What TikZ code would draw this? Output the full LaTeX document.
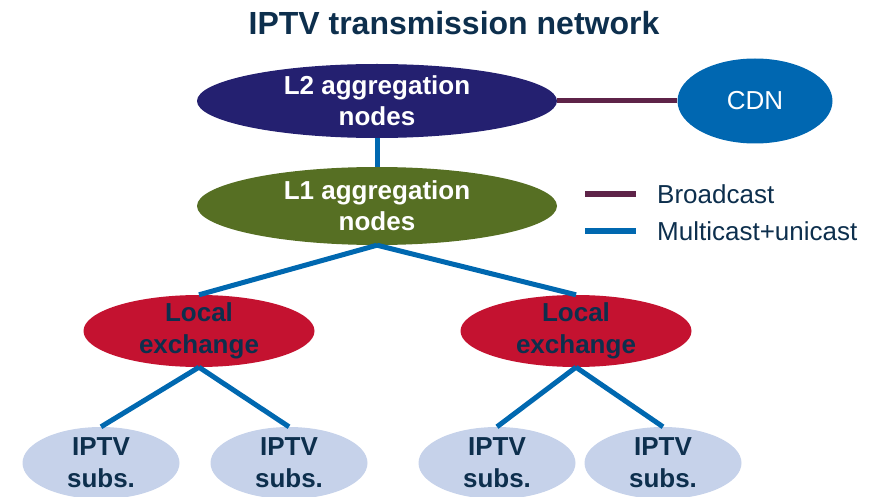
\documentclass[tikz,border=0pt]{standalone}
\usepackage{fontspec}
\setmainfont{Liberation Sans}
\usetikzlibrary{shapes.geometric, positioning}
\definecolor{aggtwo}{RGB}{36,32,112}
\definecolor{aggone}{RGB}{86,111,35}
\definecolor{exred}{RGB}{196,18,48}
\definecolor{subblue}{RGB}{198,210,234}
\definecolor{cdnblue}{RGB}{0,103,177}
\definecolor{linkblue}{RGB}{0,104,176}
\definecolor{linkplum}{RGB}{94,35,72}
\definecolor{inknavy}{RGB}{13,47,77}
\tikzset{
  agg/.style={
    ellipse, inner xsep=0pt, inner ysep=-12pt,
    minimum width=360pt, align=center, text=white,
    font=\fontsize{26}{31}\selectfont\bfseries,
    execute at begin node={\rule{0pt}{23pt}},
  },
  aggtop/.style={agg, fill=aggtwo, minimum height=74pt},
  aggmid/.style={agg, fill=aggone, minimum height=78pt},
  lexnode/.style={
    ellipse, fill=exred, inner xsep=0pt, inner ysep=-12pt,
    minimum width=231pt, minimum height=72pt,
    align=center, text=inknavy,
    font=\fontsize{26}{32}\selectfont\bfseries,
    execute at begin node={\rule{0pt}{24pt}},
  },
  subnode/.style={
    ellipse, fill=subblue, inner xsep=0pt, inner ysep=-12pt,
    minimum width=157pt, minimum height=72pt,
    align=center, text=inknavy,
    font=\fontsize{26}{32}\selectfont\bfseries,
    execute at begin node={\rule{0pt}{23pt}},
  },
  cdnnode/.style={
    ellipse, fill=cdnblue, inner sep=0pt,
    minimum width=155pt, minimum height=85pt,
    text=white, font=\fontsize{26}{31}\selectfont,
  },
  bcast/.style={line width=5pt, draw=linkplum},
  mcast/.style={line width=5pt, draw=linkblue},
  legline/.style={line width=6pt},
  legtext/.style={
    anchor=west, inner sep=0pt, text=inknavy,
    font=\fontsize{26}{31}\selectfont,
  },
  ttl/.style={
    anchor=base, inner sep=0pt, text=inknavy,
    font=\fontsize{32}{38}\selectfont\bfseries,
  }
}

\begin{document}
\begin{tikzpicture}[x=1pt, y=-1pt]

  \clip (0,0) rectangle (876,497);
  \useasboundingbox (0,0) rectangle (876,497);

  \node[ttl]     (title) at (454,35)  {IPTV transmission network};

  \node[aggtop]  (l2)    at (377,101) {L2 aggregation\\nodes};
  \node[cdnnode] (cdn)   at (755,101) {CDN};
  \node[aggmid]  (l1)    at (377,206) {L1 aggregation\\nodes};

  \node[lexnode] (lexa)  at (199,331) {Local\\exchange};
  \node[lexnode] (lexb)  at (576,331) {Local\\exchange};

  \node[subnode] (suba)  at (101,463) {IPTV\\subs.};
  \node[subnode] (subb)  at (289,463) {IPTV\\subs.};
  \node[subnode] (subc)  at (497,463) {IPTV\\subs.};
  \node[subnode] (subd)  at (663,463) {IPTV\\subs.};

  \draw[bcast] (l2) -- (cdn);
  \draw[mcast] (l2) -- (l1);
  \draw[mcast] (l1.south) -- (lexa.north);
  \draw[mcast] (l1.south) -- (lexb.north);
  \draw[mcast] (lexa.south) -- (suba.north);
  \draw[mcast] (lexa.south) -- (subb.north);
  \draw[mcast] (lexb.south) -- (subc.north);
  \draw[mcast] (lexb.south) -- (subd.north);

  \coordinate (bca) at (585,194);
  \coordinate (bcb) at (636,194);
  \coordinate (mca) at (585,231);
  \coordinate (mcb) at (636,231);
  \draw[legline, draw=linkplum] (bca) -- (bcb);
  \draw[legline, draw=linkblue] (mca) -- (mcb);
  \node[legtext] (bctext) at (657,194) {Broadcast};
  \node[legtext] (mctext) at (657,231) {Multicast+unicast};

\end{tikzpicture}
\end{document}
